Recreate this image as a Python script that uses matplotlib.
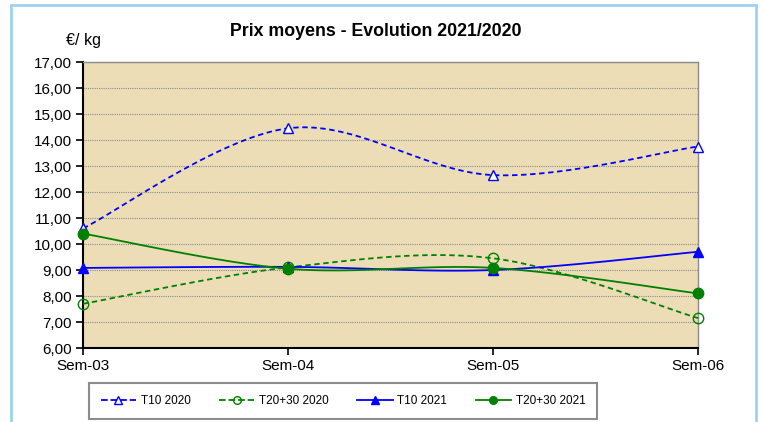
import matplotlib.pyplot as plt
import numpy as np
from matplotlib.lines import Line2D
from matplotlib.patches import Rectangle

plt.rcParams['font.family'] = ['Liberation Sans', 'DejaVu Sans']

weeks = ["Sem-03", "Sem-04", "Sem-05", "Sem-06"]
t10_2020 = [10.60, 14.45, 12.65, 13.75]
t2030_2020 = [7.70, 9.10, 9.45, 7.15]
t10_2021 = [9.08, 9.12, 9.00, 9.70]
t2030_2021 = [10.40, 9.05, 9.08, 8.10]
y_ticks = np.arange(6, 18, 1)


def smooth(y, n=40):
    # Excel-like smoothing: Catmull-Rom curve drawn as cubic Bezier pieces
    y = np.asarray(y, dtype=float)
    x = np.arange(len(y), dtype=float)
    pts = np.column_stack([x, y])
    out = []
    for i in range(len(pts) - 1):
        p0 = pts[max(i - 1, 0)]
        p1 = pts[i]
        p2 = pts[i + 1]
        p3 = pts[min(i + 2, len(pts) - 1)]
        c1 = p1 + (p2 - p0) / 6
        c2 = p2 - (p3 - p1) / 6
        t = np.linspace(0, 1, n)[:, None]
        seg = ((1 - t) ** 3) * p1 + 3 * ((1 - t) ** 2) * t * c1 + 3 * (1 - t) * t ** 2 * c2 + t ** 3 * p2
        out.append(seg if i == 0 else seg[1:])
    seg = np.vstack(out)
    return seg[:, 0], seg[:, 1]


fig = plt.figure(figsize=(7.62, 4.22), dpi=100)
fig.patch.set_facecolor("white")
ax = fig.add_axes([83 / 762, 1 - 348 / 422, 615 / 762, 286 / 422])
ax.set_facecolor("#ECDDB6")

series = [
    (t10_2020, "blue", "--", "^", "white", "T10 2020"),
    (t2030_2020, "green", "--", "o", "none", "T20+30 2020"),
    (t10_2021, "blue", "-", "^", "blue", "T10 2021"),
    (t2030_2021, "green", "-", "o", "green", "T20+30 2021"),
]
handles = []
x = np.arange(len(weeks))
for vals, col, ls, mk, mfc, lab in series:
    sx, sy = smooth(vals)
    ax.plot(sx, sy, color=col, linestyle=ls, linewidth=1.3, dashes=(3, 2) if ls == "--" else (None, None),
            zorder=3, clip_on=False)
    ax.plot(x, vals, linestyle="none", marker=mk, markersize=7 if mk == "^" else 7.5,
            markerfacecolor=mfc, markeredgecolor=col, markeredgewidth=1.0, zorder=4, clip_on=False)
    handles.append(Line2D([0], [0], color=col, linestyle=ls, linewidth=1.3, marker=mk,
                          markersize=5.5, markerfacecolor=mfc, markeredgecolor=col, label=lab))

ax.set_xlim(0, len(weeks) - 1)
ax.set_ylim(6, 17)
ax.set_xticks(x, labels=weeks)
ax.set_yticks(y_ticks, labels=[f"{v:.2f}".replace(".", ",") for v in y_ticks])
ax.yaxis.grid(True, color="#8C8C8C", linestyle=(0, (1, 1)), linewidth=0.8)
ax.set_axisbelow(True)
ax.tick_params(axis="both", direction="out", length=5, width=1.2, labelsize=11, colors="black", pad=3)
ax.spines["left"].set_linewidth(1.5)
ax.spines["bottom"].set_linewidth(1.5)
for s in ["top", "right"]:
    ax.spines[s].set_color("#8C8C8C")
    ax.spines[s].set_linewidth(1.0)

fig.text(376 / 762, 1 - 32 / 422, "Prix moyens - Evolution 2021/2020", ha="center", va="center",
         fontsize=12.8, fontweight="bold")
fig.text(83 / 762, 1 - 40 / 422, "€/ kg", ha="center", va="center", fontsize=11.5)

leg = fig.legend(handles=handles, loc="center", bbox_to_anchor=(343 / 762, 1 - 401 / 422), ncol=4,
                 frameon=True, fontsize=8.5, handlelength=3.0, columnspacing=2.4, handletextpad=0.4,
                 borderpad=1.0, borderaxespad=0, fancybox=False)
leg.get_frame().set_edgecolor("#707070")
leg.get_frame().set_linewidth(1.5)

# light blue outer frame of the chart area
fig.add_artist(Rectangle((11 / 762, -0.05), 745 / 762, 1.05 - 5 / 422, transform=fig.transFigure,
                         fill=False, edgecolor="#9DD3F0", linewidth=2))

fig.savefig("out.png", dpi=100)
